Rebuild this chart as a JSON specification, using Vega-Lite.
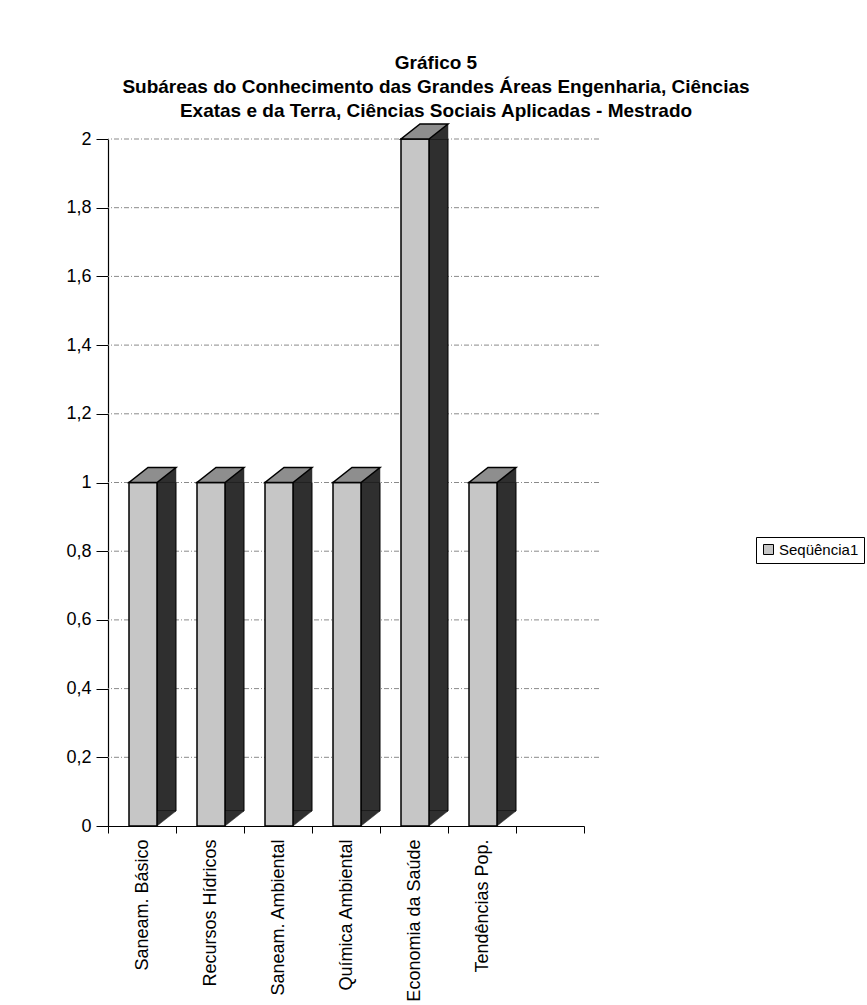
{
  "$schema": "https://vega.github.io/schema/vega-lite/v6.json",
  "autosize": {"type": "none"},
  "width": 476,
  "height": 687,
  "padding": {"left": 108, "top": 139, "right": 283, "bottom": 179},
  "background": "white",
  "config": {
    "view": {"stroke": null},
    "font": "Liberation Sans",
    "axis": {"labelFont": "Liberation Sans", "labelColor": "black", "domainColor": "black", "tickColor": "black"}
  },
  "title": {
    "text": [
      "Gráfico 5",
      "Subáreas do Conhecimento das Grandes Áreas Engenharia, Ciências",
      "Exatas e da Terra, Ciências Sociais Aplicadas - Mestrado"
    ],
    "font": "Liberation Sans",
    "fontSize": 19,
    "fontWeight": "bold",
    "color": "black",
    "lineHeight": 24,
    "anchor": "middle",
    "dx": 90,
    "offset": 0
  },
  "datasets": {
    "mestrado": [
      {"area": "Saneam. Básico", "valor": 1, "serie": "Seqüência1"},
      {"area": "Recursos Hídricos", "valor": 1, "serie": "Seqüência1"},
      {"area": "Saneam. Ambiental", "valor": 1, "serie": "Seqüência1"},
      {"area": "Química Ambiental", "valor": 1, "serie": "Seqüência1"},
      {"area": "Economia da Saúde", "valor": 2, "serie": "Seqüência1"},
      {"area": "Tendências Pop.", "valor": 1, "serie": "Seqüência1"}
    ],
    "grade": [
      {"v": 0.2}, {"v": 0.4}, {"v": 0.6}, {"v": 0.8}, {"v": 1},
      {"v": 1.2}, {"v": 1.4}, {"v": 1.6}, {"v": 1.8}, {"v": 2}
    ]
  },
  "encoding": {
    "x": {
      "field": "area",
      "type": "nominal",
      "sort": null,
      "scale": {
        "domain": ["Saneam. Básico", "Recursos Hídricos", "Saneam. Ambiental", "Química Ambiental", "Economia da Saúde", "Tendências Pop.", " "],
        "paddingInner": 0,
        "paddingOuter": 0
      },
      "axis": {
        "title": null,
        "labelAngle": -90,
        "labelFontSize": 18,
        "labelPadding": 6,
        "tickSize": 7,
        "tickBand": "extent",
        "grid": false,
        "domainWidth": 1.2
      }
    },
    "y": {
      "field": "valor",
      "type": "quantitative",
      "scale": {"domain": [0, 2], "nice": false},
      "axis": {
        "title": null,
        "values": [0, 0.2, 0.4, 0.6, 0.8, 1, 1.2, 1.4, 1.6, 1.8, 2],
        "format": "~g",
        "labelExpr": "replace(datum.label, '.', ',')",
        "labelFontSize": 18,
        "labelPadding": 5,
        "tickSize": 12,
        "grid": false,
        "domainWidth": 1.2
      }
    }
  },
  "layer": [
    {
      "data": {"name": "grade"},
      "mark": {"type": "rule", "stroke": "#8a8a8a", "strokeWidth": 1, "strokeDash": [5, 2, 1, 2], "xOffset": 15, "x2Offset": 15},
      "encoding": {"y": {"field": "v", "type": "quantitative"}, "x": null}
    },
    {
      "data": {"name": "mestrado"},
      "mark": {"type": "bar", "width": 19, "xOffset": 24.5, "y2Offset": -15, "fill": "#2f2f2f", "stroke": "black", "strokeWidth": 1},
      "encoding": {"y2": {"datum": 0}}
    },
    {
      "data": {"name": "mestrado"},
      "mark": {"type": "point", "shape": "M-1,0.789 L1,-0.789 L1,0.789 Z", "size": 361, "filled": true, "opacity": 1, "fill": "#2f2f2f", "stroke": "#2f2f2f", "strokeWidth": 0.5, "xOffset": 24.5, "yOffset": -7.5}
    },
    {
      "data": {"name": "mestrado"},
      "mark": {"type": "point", "shape": "M-1,-0.789 L-1,0.789 L1,-0.789 Z", "size": 361, "filled": true, "opacity": 1, "fill": "#2f2f2f", "stroke": "#2f2f2f", "strokeWidth": 0.5, "xOffset": 24.5, "yOffset": -7.5},
      "encoding": {"y": {"datum": 0, "type": "quantitative"}}
    },
    {
      "data": {"name": "mestrado"},
      "mark": {"type": "bar", "width": 28, "xOffset": 1, "stroke": "black", "strokeWidth": 1.5},
      "encoding": {
        "color": {
          "field": "serie",
          "type": "nominal",
          "scale": {"range": ["#c6c6c6"]},
          "legend": {
            "title": null,
            "orient": "none",
            "legendX": 648,
            "legendY": 398,
            "symbolType": "square",
            "symbolSize": 100,
            "symbolStrokeColor": "black",
            "symbolStrokeWidth": 1,
            "labelFont": "Liberation Sans",
            "labelFontSize": 15,
            "labelColor": "black",
            "labelOffset": 3,
            "strokeColor": "black",
            "padding": 5,
            "fillColor": "white"
          }
        }
      }
    },
    {
      "data": {"name": "mestrado"},
      "mark": {"type": "point", "shape": "M-1,0.319 L0.191,0.319 L1,-0.319 L-0.191,-0.319 Z", "size": 2209, "filled": true, "opacity": 1, "fill": "#8e8e8e", "stroke": "black", "strokeWidth": 1.5, "xOffset": 10.5, "yOffset": -7.5}
    }
  ]
}
